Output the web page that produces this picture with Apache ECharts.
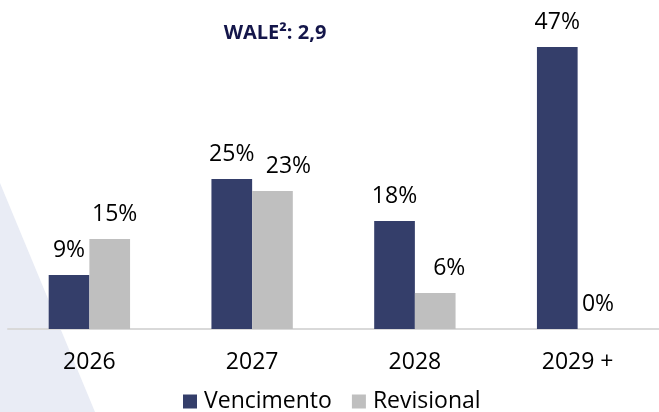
<!DOCTYPE html>
<html lang="pt">
<head>
  <meta charset="UTF-8" />
  <title>WALE</title>
  <script src="https://cdn.jsdelivr.net/npm/echarts@6/dist/echarts.min.js"></script>
  <style>
    html, body { margin: 0; padding: 0; background: #fff; }
    #main { width: 659px; height: 412px; }
  </style>
</head>
<body>
  <div id="main"></div>
  <script>
    // dados do gráfico
    var categories = ['2026', '2027', '2028', '2029 +'];
    var vencimento = [9, 25, 18, 47];
    var revisional = [15, 23, 6, 0];
    var seriesNames = ['Vencimento', 'Revisional'];
    var titleText = 'WALE²: 2,9';

    // deslocamento horizontal dos rótulos cinza (como no original)
    var revLabelShift = [5, 16, 14, 0];

    var font = 'Open Sans';
    var chart = echarts.init(document.getElementById('main'));

    var option = {
      backgroundColor: '#fff',
      animation: false,
      graphic: [
        {
          type: 'polygon',
          z: -10,
          shape: { points: [[0, 183], [95, 412], [0, 412]] },
          style: { fill: '#E9ECF5' }
        },
        {
          type: 'text',
          x: 275,
          y: 33,
          style: {
            text: titleText,
            align: 'center',
            verticalAlign: 'middle',
            fontFamily: font,
            fontWeight: 'bold',
            fontSize: 20,
            fill: '#14164A'
          }
        }
      ],
      legend: {
        data: seriesNames,
        left: 183,
        top: 390,
        padding: 0,
        icon: 'rect',
        itemWidth: 14,
        itemHeight: 14,
        itemGap: 20,
        textStyle: { fontFamily: font, fontSize: 23, color: '#000', padding: [0, 0, 0, 2] }
      },
      grid: { left: 8, right: -4, top: 29, bottom: 83 },
      xAxis: {
        type: 'category',
        data: categories,
        axisLine: { lineStyle: { color: '#D9D9D9', width: 2 } },
        axisTick: { show: false },
        axisLabel: { fontFamily: font, fontSize: 23, color: '#000', margin: 22 }
      },
      yAxis: {
        type: 'value',
        min: 0,
        max: 50,
        show: false
      },
      series: [
        {
          name: seriesNames[0],
          type: 'bar',
          data: vencimento,
          barGap: '0%',
          barCategoryGap: '50%',
          itemStyle: { color: '#343E6A' },
          label: {
            show: true,
            position: 'top',
            distance: 13,
            formatter: '{c}%',
            fontFamily: font,
            fontSize: 23,
            color: '#000'
          }
        },
        {
          name: seriesNames[1],
          type: 'bar',
          data: revisional.map(function (v, i) {
            return { value: v, label: { offset: [revLabelShift[i], 0] } };
          }),
          itemStyle: { color: '#BFBFBF' },
          label: {
            show: true,
            position: 'top',
            distance: 13,
            formatter: '{c}%',
            fontFamily: font,
            fontSize: 23,
            color: '#000'
          }
        }
      ]
    };

    chart.setOption(option);
  </script>
</body>
</html>
